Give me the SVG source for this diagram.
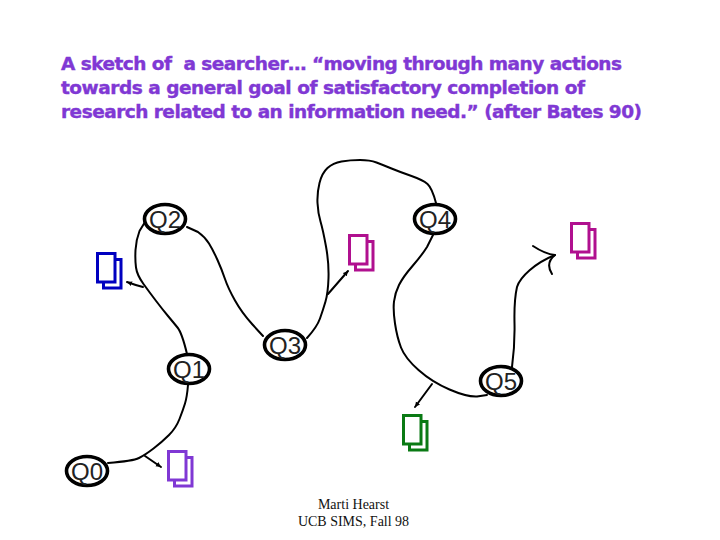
<svg xmlns="http://www.w3.org/2000/svg" width="720" height="540" viewBox="0 0 720 540">
<defs>
<marker id="tip" markerUnits="userSpaceOnUse" markerWidth="8" markerHeight="8" refX="5" refY="3" orient="auto"><path d="M0,0.5 L5,3 L0,5.5 Z" fill="#000"/></marker>
</defs>
<style>
.title{font-family:"DejaVu Sans",sans-serif;font-weight:700;font-size:18.5px;fill:#8038d4;stroke:#8038d4;stroke-width:0.4}
.foot{font-family:"Liberation Serif",serif;font-size:14px;fill:#111;text-anchor:middle}
.q ellipse{fill:#fff;stroke:#000;stroke-width:3.6}
.q text{font-family:"Liberation Sans",sans-serif;font-size:24px;fill:#222;text-anchor:middle}
.c path{fill:none;stroke:#000;stroke-width:2;stroke-linecap:round;stroke-linejoin:round}
.doc rect{fill:#fff;stroke-width:3}
</style>
<rect width="720" height="540" fill="#fff"/>
<text class="title" x="61" y="70" textLength="561" lengthAdjust="spacing" xml:space="preserve">A sketch of  a searcher… “moving through many actions</text>
<text class="title" x="61" y="94" textLength="524" lengthAdjust="spacing">towards a general goal of satisfactory completion of</text>
<text class="title" x="61" y="118" textLength="581" lengthAdjust="spacing">research related to an information need.” (after Bates 90)</text>
<g id="connectors" class="c">
<path d="M108,463 Q133,461 139,458 Q145,455 153.5,448.5 Q162,442 169,435 Q176,428 179.5,419 Q183,410 185,403.5 Q187,397 188,385"/>
<path d="M145,456 L161,467" marker-end="url(#tip)"/>
<path d="M187,354 Q182,333 177.5,327.5 Q173,322 168,316 Q163,310 156.5,301.5 Q150,293 143.5,284 Q137,275 136,267.5 Q135,260 135.500,250 Q136,240 139.500,231 L145,222"/>
<path d="M143,287 Q135,285 127,282" marker-end="url(#tip)"/>
<path d="M187,227 L198,232 Q205,237 209,243.5 Q213,250 217.5,260 Q222,270 225,279 Q228,288 235,300.5 Q242,313 252.5,324.5 L263,336"/>
<path d="M307,338 Q317,327 320,318.5 Q323,310 325.5,301.5 Q328,293 328.5,278 Q329,263 326,246.5 Q323,230 320.5,221.5 Q318,213 317.5,203 Q317,193 319.5,183 Q322,173 327.5,168 Q333,163 341.5,161.5 Q350,160 360,160 Q370,160 376.5,162.5 Q383,165 391.5,168.5 Q400,172 411.5,176 Q423,180 427.5,184 Q432,188 436,203"/>
<path d="M328,294 L348,271" marker-end="url(#tip)"/>
<path d="M433,235 L427,247 Q422,255 412.5,266 Q403,277 399,285 Q395,293 394,301.5 Q393,310 395,323.5 Q397,337 401,347.5 Q405,358 418.5,370 Q432,382 449.5,389.5 Q467,397 477,396.5 L487,395"/>
<path d="M432,384 L415,407" marker-end="url(#tip)"/>
<path d="M512,367 Q515,345 514.5,323 Q514,300 517,287 C520,277 535,263 555,255"/>
<path d="M533,246 Q545,254 555,255 Q545,263 552,274"/>
</g>
<g id="doc-blue" class="doc" stroke="#0000c0"><rect x="103.500" y="259.500" width="17.500" height="28.500"/><rect x="97.500" y="253.500" width="17.500" height="28.500"/></g>
<g id="doc-magenta-1" class="doc" stroke="#b0108f"><rect x="355.500" y="241.500" width="17.500" height="28.500"/><rect x="349.500" y="235.500" width="17.500" height="28.500"/></g>
<g id="doc-magenta-2" class="doc" stroke="#b0108f"><rect x="577.500" y="229.500" width="17.500" height="28.500"/><rect x="571.500" y="223.500" width="17.500" height="28.500"/></g>
<g id="doc-purple" class="doc" stroke="#8038d4"><rect x="174.500" y="457.500" width="17.500" height="28.500"/><rect x="168.500" y="451.500" width="17.500" height="28.500"/></g>
<g id="doc-green" class="doc" stroke="#0a7a14"><rect x="409.500" y="421.500" width="17.500" height="28.500"/><rect x="403.500" y="415.500" width="17.500" height="28.500"/></g>
<g id="Q0" class="q"><ellipse cx="87" cy="471" rx="20.500" ry="14.500"/><text x="87" y="480">Q0</text></g>
<g id="Q1" class="q"><ellipse cx="189" cy="369" rx="20.500" ry="14.500"/><text x="189" y="378">Q1</text></g>
<g id="Q2" class="q"><ellipse cx="165" cy="219" rx="20.500" ry="14.500"/><text x="165" y="228">Q2</text></g>
<g id="Q3" class="q"><ellipse cx="285" cy="345" rx="20.500" ry="14.500"/><text x="285" y="354">Q3</text></g>
<g id="Q4" class="q"><ellipse cx="435" cy="219" rx="20.500" ry="14.500"/><text x="435" y="228">Q4</text></g>
<g id="Q5" class="q"><ellipse cx="501" cy="381" rx="20.500" ry="14.500"/><text x="501" y="390">Q5</text></g>
<text class="foot" x="353.500" y="509">Marti Hearst</text>
<text class="foot" x="353.500" y="526">UCB SIMS, Fall 98</text>
</svg>
